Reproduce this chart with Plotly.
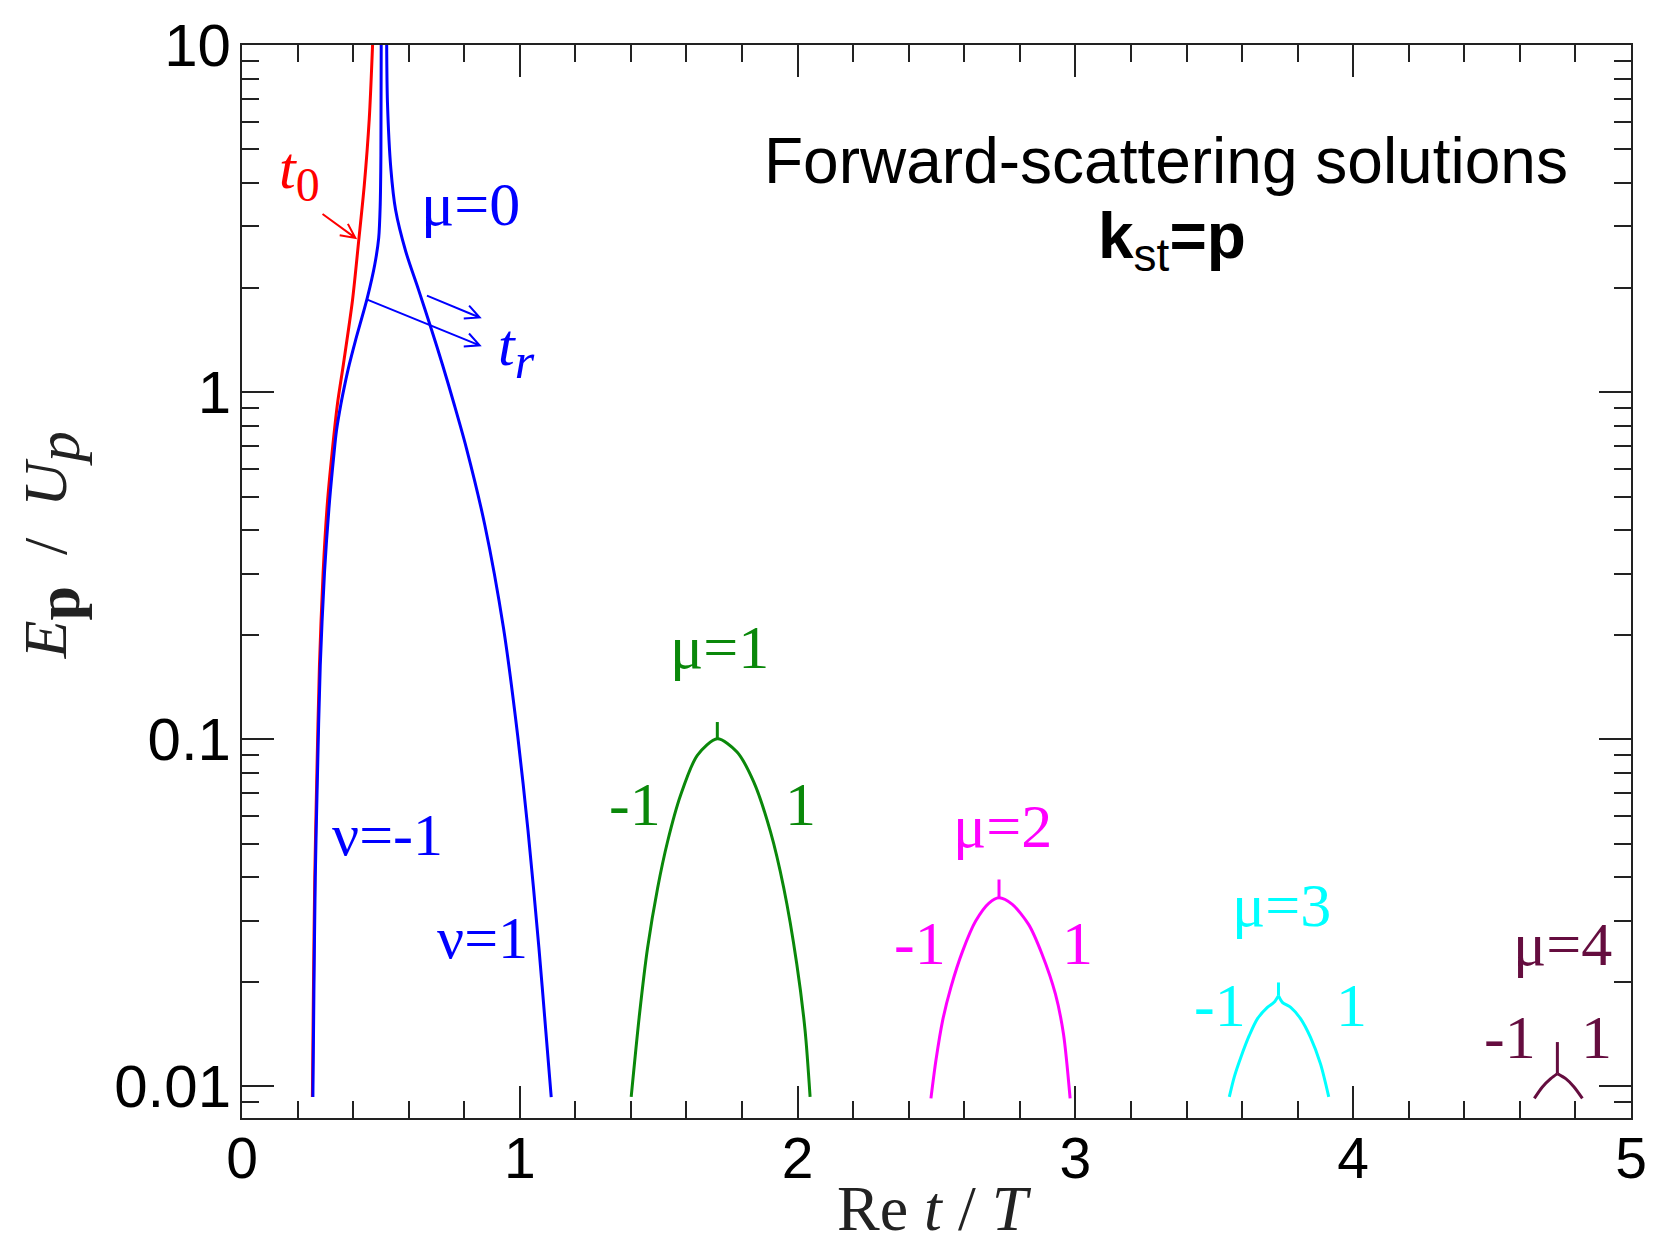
import math
import plotly.graph_objects as go

# ---------------- data (Re t / T , E_p / U_p) ----------------
t0_x = [0.2534, 0.2570, 0.2620, 0.2688, 0.2788, 0.2921, 0.3078, 0.3239, 0.3436, 0.3651, 0.3973, 0.4198, 0.4402, 0.4581, 0.4700]
t0_y = [0.0093, 0.0184, 0.040, 0.0748, 0.163, 0.303, 0.484, 0.664, 0.924, 1.203, 1.826, 2.714, 3.945, 6.125, 10.0]

mu0_m1_x = [0.2552, 0.2588, 0.2638, 0.2710, 0.2817, 0.2971, 0.3150, 0.3311, 0.3400, 0.3561, 0.3704, 0.3865, 0.4080, 0.4510, 0.4778, 0.4921, 0.4975, 0.5000, 0.5011]
mu0_m1_y = [0.0093, 0.0184, 0.040, 0.0748, 0.163, 0.303, 0.484, 0.664, 0.773, 0.924, 1.054, 1.203, 1.403, 1.868, 2.327, 2.781, 3.457, 4.81, 10.0]

mu0_p1_x = [0.5208, 0.5236, 0.5358, 0.5530, 0.5895, 0.6353, 0.6800, 0.7212, 0.7634, 0.8075, 0.8740, 0.9413, 0.9925, 1.0294, 1.0687, 1.0938, 1.1131]
mu0_p1_y = [10.0, 6.83, 4.404, 3.345, 2.541, 1.973, 1.532, 1.203, 0.924, 0.691, 0.414, 0.2089, 0.1021, 0.0547, 0.02513, 0.01436, 0.0093]

mu1_m1_x = [1.401, 1.431, 1.460, 1.496, 1.532, 1.579, 1.639, 1.711]
mu1_m1_y = [0.00931, 0.01614, 0.02506, 0.0372, 0.0507, 0.069, 0.0898, 0.1002]
mu1_p1_x = [1.711, 1.782, 1.842, 1.902, 1.950, 1.997, 2.027, 2.045]
mu1_p1_y = [0.1002, 0.0918, 0.0753, 0.0542, 0.0373, 0.0225, 0.01446, 0.00931]
mu1_stem_x = [1.711, 1.711]
mu1_stem_y = [0.1002, 0.112]

mu2_m1_x = [2.480, 2.498, 2.522, 2.552, 2.594, 2.641, 2.689, 2.725]
mu2_m1_y = [0.00922, 0.01187, 0.01545, 0.0193, 0.0245, 0.0299, 0.0337, 0.0349]
mu2_p1_x = [2.725, 2.773, 2.832, 2.880, 2.928, 2.957, 2.981]
mu2_p1_y = [0.0349, 0.0334, 0.0292, 0.0240, 0.01844, 0.01416, 0.00922]
mu2_stem_x = [2.725, 2.725]
mu2_stem_y = [0.0349, 0.0394]

mu3_m1_x = [3.554, 3.572, 3.596, 3.626, 3.655, 3.691, 3.715, 3.731]
mu3_m1_y = [0.00931, 0.01064, 0.01214, 0.0140, 0.01563, 0.01687, 0.01744, 0.01823]
mu3_p1_x = [3.731, 3.745, 3.775, 3.811, 3.846, 3.882, 3.912]
mu3_p1_y = [0.01823, 0.01744, 0.01687, 0.01563, 0.01384, 0.01161, 0.00931]
mu3_stem_x = [3.731, 3.731]
mu3_stem_y = [0.01823, 0.0199]

mu4_m1_x = [4.652, 4.681, 4.711, 4.735]
mu4_m1_y = [0.00922, 0.00995, 0.01051, 0.01087]
mu4_p1_x = [4.735, 4.765, 4.795, 4.825]
mu4_p1_y = [0.01087, 0.01051, 0.00995, 0.00922]
mu4_stem_x = [4.735, 4.735]
mu4_stem_y = [0.01087, 0.0134]

y_tick_vals = [0.01, 0.1, 1, 10]
y_tick_text = ["0.01", "0.1", "1", "10"]
y_minor_vals = [0.009] + [m * d for d in (0.01, 0.1, 1) for m in range(2, 10)]

RED, BLUE, GREEN, MAGENTA, CYAN, PURPLE = "#ff0000", "#0000ff", "#0a880a", "#ff00ff", "#00ffff", "#650d3f"

# ---------------- layout geometry ----------------
W, H = 1659, 1246
L, R, T, B = 242, 1639, 39, 1118


def px(X):
    return (X - L) / (R - L)


def py(Y):
    return (B - Y) / (B - T)


fig = go.Figure()


def add(x, y, color, smooth=True):
    fig.add_trace(go.Scatter(
        x=x, y=y, mode="lines",
        line=dict(color=color, width=3, shape="spline" if smooth else "linear", smoothing=0.8),
        hoverinfo="skip", showlegend=False))


add(t0_x, t0_y, RED)
add(mu0_m1_x, mu0_m1_y, BLUE)
add(mu0_p1_x, mu0_p1_y, BLUE)

# smooth arches (branches join smoothly at the top)
add(mu1_m1_x + mu1_p1_x[1:], mu1_m1_y + mu1_p1_y[1:], GREEN)
add(mu1_stem_x, mu1_stem_y, GREEN, smooth=False)
add(mu2_m1_x + mu2_p1_x[1:], mu2_m1_y + mu2_p1_y[1:], MAGENTA)
add(mu2_stem_x, mu2_stem_y, MAGENTA, smooth=False)
# cusped arches
for c, parts in [
    (CYAN, [(mu3_m1_x, mu3_m1_y), (mu3_p1_x, mu3_p1_y), (mu3_stem_x, mu3_stem_y)]),
    (PURPLE, [(mu4_m1_x, mu4_m1_y), (mu4_p1_x, mu4_p1_y), (mu4_stem_x, mu4_stem_y)]),
]:
    for (xx, yy) in parts:
        add(xx, yy, c)


# ---------------- arrows (open V heads) ----------------
def arrow_path(x0, y0, x1, y1, head=16, ang=26):
    a = math.atan2(y1 - y0, x1 - x0)
    pts = []
    for s in (+1, -1):
        b = a + math.pi - s * math.radians(ang)
        pts.append((x1 + head * math.cos(b), y1 + head * math.sin(b)))
    f = lambda X, Y: f"{px(X):.5f},{py(Y):.5f}"
    return f"M{f(x0, y0)} L{f(x1, y1)} M{f(*pts[0])} L{f(x1, y1)} L{f(*pts[1])}"


shapes = []
for (x0, y0, x1, y1, col) in [(323, 209, 356, 233, RED), (368, 295, 481, 341, BLUE), (428, 291, 481, 313, BLUE)]:
    shapes.append(dict(type="path", xref="paper", yref="paper", path=arrow_path(x0, y0, x1, y1),
                       line=dict(color=col, width=2)))

# ---------------- text labels ----------------
SERIF = "Liberation Serif"
SANS = "Liberation Sans"
ann = []


def lab(text, X, Y, color, size=62, family=SERIF, **kw):
    d = dict(text=text, x=px(X), y=py(Y), xref="paper", yref="paper", showarrow=False,
             xanchor="center", yanchor="middle", font=dict(family=family, size=size, color=color))
    d.update(kw)
    ann.append(d)


def sub(s, size):
    return f"<sub><span style='font-size:{size}px'>{s}</span></sub>"


lab("<i>t</i>" + sub("0", 48), 300, 168, RED, size=60)
lab("μ=0", 472, 199, BLUE)
lab("<i>t</i>" + sub("<i>r</i>", 50), 518, 346, BLUE, size=60)
lab("ν=-1", 388, 833, BLUE, size=60)
lab("ν=1", 484, 937, BLUE, size=60)
lab("μ=1", 722, 644, GREEN)
lab("-1", 637, 802, GREEN)
lab("1", 804, 802, GREEN)
lab("μ=2", 1007, 824, MAGENTA)
lab("-1", 924, 942, MAGENTA)
lab("1", 1082, 942, MAGENTA)
lab("μ=3", 1287, 904, CYAN)
lab("-1", 1226, 1004, CYAN)
lab("1", 1358, 1004, CYAN)
lab("μ=4", 1570, 943, PURPLE)
lab("-1", 1517, 1037, PURPLE)
lab("1", 1604, 1037, PURPLE)

lab("Forward-scattering solutions", 1171, 156, "black", size=64, family=SANS)
lab("<b>k</b>" + sub("st", 46) + "<b>=p</b>", 1177, 236, "black", size=64, family=SANS)

NB = "\u00a0"
lab("Re <i>t</i> / <i>T</i>", 938, 1246, "#222", size=64, yanchor="bottom", borderpad=0)
lab(("<i>E</i>" + sub("<b>p</b>", 62) + NB + " / " + NB + "<i>U</i>" + sub("<i>p</i>", 62)),
    50, 542, "#222", size=62, textangle=-90)

AX = "#222"
fig.update_layout(
    width=W, height=H, autosize=False,
    margin=dict(l=L, r=W - R, t=T, b=H - B, pad=0),
    paper_bgcolor="white", plot_bgcolor="white",
    shapes=shapes, annotations=ann,
    xaxis=dict(range=[0, 5], showline=True, linecolor=AX, linewidth=2, mirror="ticks",
               ticks="inside", ticklen=32, tickwidth=2, tickcolor=AX, tick0=0, dtick=1,
               tickfont=dict(family=SANS, size=57, color="black"), ticklabelstandoff=-10,
               minor=dict(dtick=0.2, tick0=0, ticks="inside", ticklen=17, tickwidth=2, tickcolor=AX, showgrid=False),
               showgrid=False, zeroline=False),
    yaxis=dict(type="log", range=[-2.0917, 1], showline=True, linecolor=AX, linewidth=2, mirror="ticks",
               ticks="inside", ticklen=32, tickwidth=2, tickcolor=AX,
               tickmode="array", tickvals=y_tick_vals, ticktext=y_tick_text,
               tickfont=dict(family=SANS, size=60, color="black"), ticklabelstandoff=-3,
               minor=dict(tickmode="array", tickvals=y_minor_vals, ticks="inside", ticklen=17, tickwidth=2,
                          tickcolor=AX, showgrid=False),
               showgrid=False, zeroline=False),
)

fig.write_html("out.html")
